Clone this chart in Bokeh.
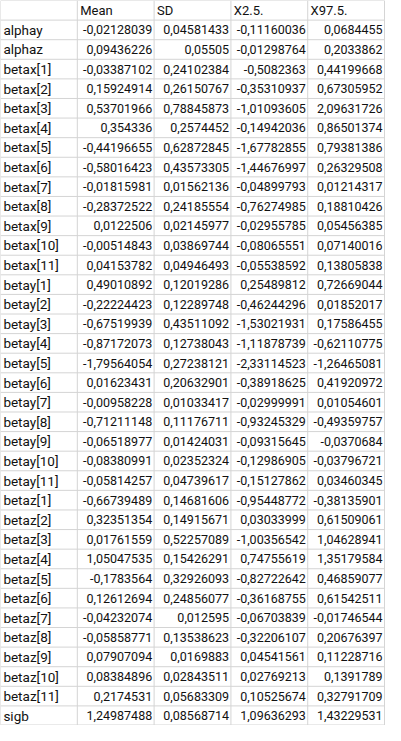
from bokeh.core.properties import value
from bokeh.embed import file_html
from bokeh.models import ColumnDataSource, Range1d
from bokeh.plotting import figure
from bokeh.resources import INLINE

columns = ["Mean", "SD", "X2.5.", "X97.5."]
row_names = (["alphay", "alphaz"]
             + [f"betax[{i}]" for i in range(1, 12)]
             + [f"betay[{i}]" for i in range(1, 12)]
             + [f"betaz[{i}]" for i in range(1, 12)]
             + ["sigb"])

mean = ["-0,02128039", "0,09436226", "-0,03387102", "0,15924914", "0,53701966", "0,354336",
        "-0,44196655", "-0,58016423", "-0,01815981", "-0,28372522", "0,0122506", "-0,00514843",
        "0,04153782", "0,49010892", "-0,22224423", "-0,67519939", "-0,87172073", "-1,79564054",
        "0,01623431", "-0,00958228", "-0,71211148", "-0,06518977", "-0,08380991", "-0,05814257",
        "-0,66739489", "0,32351354", "0,01761559", "1,05047535", "-0,1783564", "0,12612694",
        "-0,04232074", "-0,05858771", "0,07907094", "0,08384896", "0,2174531", "1,24987488"]
sd = ["0,04581433", "0,05505", "0,24102384", "0,26150767", "0,78845873", "0,2574452",
      "0,62872845", "0,43573305", "0,01562136", "0,24185554", "0,02145977", "0,03869744",
      "0,04946493", "0,12019286", "0,12289748", "0,43511092", "0,12738043", "0,27238121",
      "0,20632901", "0,01033417", "0,11176711", "0,01424031", "0,02352324", "0,04739617",
      "0,14681606", "0,14915671", "0,52257089", "0,15426291", "0,32926093", "0,24856077",
      "0,012595", "0,13538623", "0,0169883", "0,02843511", "0,05683309", "0,08568714"]
x2_5 = ["-0,11160036", "-0,01298764", "-0,5082363", "-0,35310937", "-1,01093605", "-0,14942036",
        "-1,67782855", "-1,44676997", "-0,04899793", "-0,76274985", "-0,02955785", "-0,08065551",
        "-0,05538592", "0,25489812", "-0,46244296", "-1,53021931", "-1,11878739", "-2,33114523",
        "-0,38918625", "-0,02999991", "-0,93245329", "-0,09315645", "-0,12986905", "-0,15127862",
        "-0,95448772", "0,03033999", "-1,00356542", "0,74755619", "-0,82722642", "-0,36168755",
        "-0,06703839", "-0,32206107", "0,04541561", "0,02769213", "0,10525674", "1,09636293"]
x97_5 = ["0,0684455", "0,2033862", "0,44199668", "0,67305952", "2,09631726", "0,86501374",
         "0,79381386", "0,26329508", "0,01214317", "0,18810426", "0,05456385", "0,07140016",
         "0,13805838", "0,72669044", "0,01852017", "0,17586455", "-0,62110775", "-1,26465081",
         "0,41920972", "0,01054601", "-0,49359757", "-0,0370684", "-0,03796721", "0,03460345",
         "-0,38135901", "0,61509061", "1,04628941", "1,35179584", "0,46859077", "0,61542511",
         "-0,01746544", "0,20676397", "0,11228716", "0,1391789", "0,32791709", "1,43229531"]

W, H = 385, 725
n_rows = len(row_names) + 1
row_h = 741 / n_rows
edges_x = [0, 80, 160, 240, 320, 400]

p = figure(width=W, height=H, output_backend="svg", toolbar_location=None,
           x_range=Range1d(0, 401), y_range=Range1d(741, 0), min_border=0)
p.axis.visible = False
p.grid.visible = False
p.outline_line_color = None
p.background_fill_color = "white"

# grid lines
hy = [min(i * row_h, 740.5) for i in range(n_rows + 1)]
p.segment(x0=[0] * len(hy), y0=hy, x1=[400] * len(hy), y1=hy, line_color="#d4d4d4", line_width=1)
p.segment(x0=edges_x, y0=[0] * 6, x1=edges_x, y1=[740.5] * 6, line_color="#d4d4d4", line_width=1)

font = value("Roboto")
ys = [(i + 1.5) * row_h for i in range(len(row_names))]

# header
p.text(x=[e + 3 for e in edges_x[1:5]], y=[row_h / 2] * 4, text=columns, text_font=font,
       text_font_size="13px", text_baseline="middle", text_align="left", text_color="#111111")
# row labels
p.text(x=[3] * len(row_names), y=ys, text=row_names, text_font=font, text_font_size="13.5px",
       text_baseline="middle", text_align="left", text_color="#111111")
for k, col in enumerate([mean, sd, x2_5, x97_5]):
    src = ColumnDataSource(dict(x=[edges_x[k + 2] - 2] * len(col), y=ys, t=col))
    p.text(x="x", y="y", text="t", source=src, text_font=font, text_font_size="12.5px",
           text_baseline="middle", text_align="right", text_color="#111111")

open("out.html", "w").write(file_html(p, INLINE))
